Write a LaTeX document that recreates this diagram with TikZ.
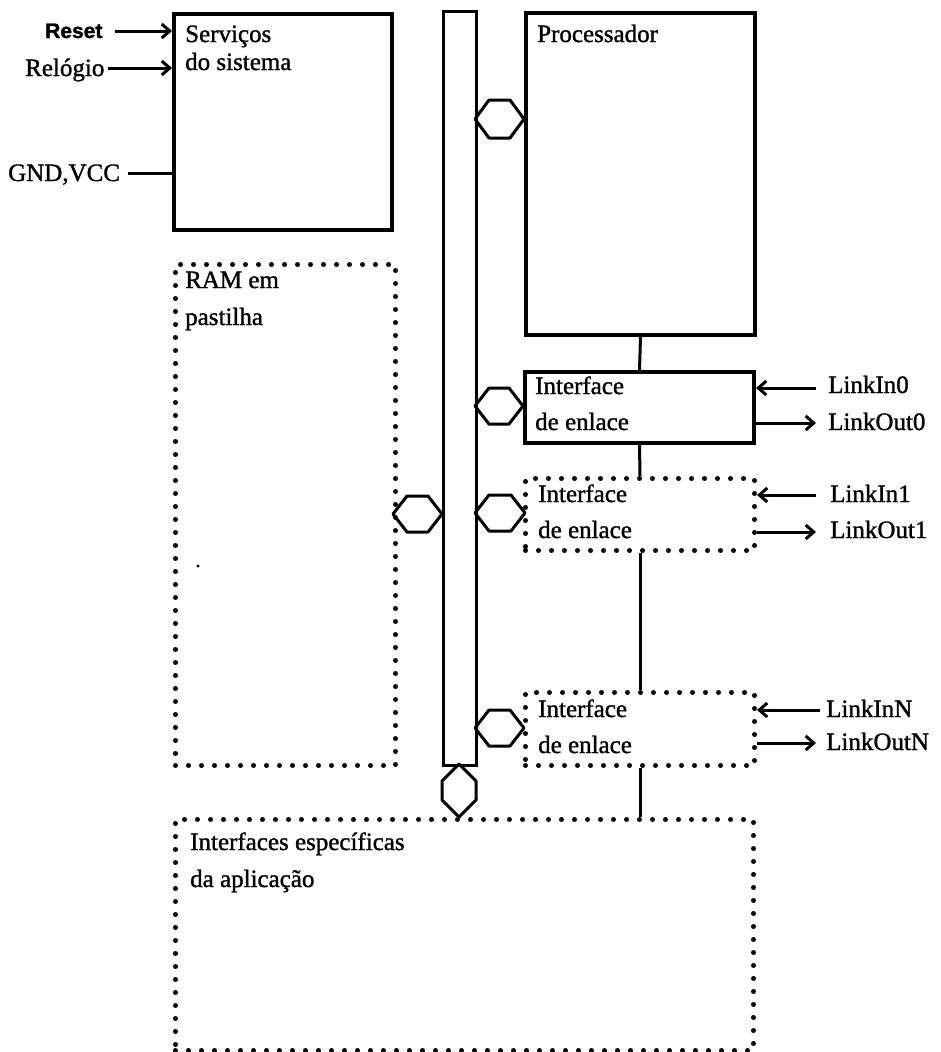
\documentclass[tikz,border=0pt]{standalone}
\usepackage{fontspec}
\setmainfont{Liberation Serif}[FakeBold=1.2]
\newfontfamily\resetfont{Liberation Sans}[FakeBold=1.5]
\usetikzlibrary{arrows.meta,calc}
\newcommand{\hexhor}[4]{%
  \draw[hexline] (#1,#3) -- (#1+14,#3-#4) -- (#2-14,#3-#4) -- (#2,#3) -- (#2-14,#3+#4) -- (#1+14,#3+#4) -- cycle;}
\begin{document}
\begin{tikzpicture}[x=1pt,y=-1pt,
  font=\fontsize{25}{30}\selectfont,
  solidbox/.style={draw, rectangle, line width=4pt, inner sep=0pt, anchor=north west},
  dotbox/.style={draw, rectangle, line width=5pt, dash pattern=on 0pt off 13pt, line cap=round, inner sep=0pt, anchor=north west},
  busbox/.style={draw, rectangle, line width=3pt, inner sep=0pt, anchor=north west},
  lbl/.style={anchor=base west, inner sep=0pt},
  wire/.style={line width=3pt},
  arr/.style={wire, -{Straight Barb[length=8pt,width=14pt]}},
  hexline/.style={line width=3pt, line join=round}]
\useasboundingbox (0,0) rectangle (941,1052);

% boxes
\node[solidbox, minimum width=218pt, minimum height=216pt] (serv) at (172,12) {};
\node[solidbox, minimum width=229pt, minimum height=322pt] (proc) at (524,11) {};
\node[solidbox, minimum width=229pt, minimum height=71pt] (if0) at (523,370) {};
\node[dotbox, minimum width=229pt, minimum height=72pt] (if1) at (523,476) {};
\node[dotbox, minimum width=229pt, minimum height=73pt] (ifN) at (523,690) {};
\node[dotbox, minimum width=220pt, minimum height=501pt] (ram) at (173,262) {};
\node[dotbox, minimum width=578pt, minimum height=231pt] (app) at (173,817) {};
\node[busbox, minimum width=33pt, minimum height=754pt] (bus) at (442,10) {};

% box texts
\node[lbl] (servt1) at (185,42) {Serviços};
\node[lbl] (servt2) at (185,70) {do sistema};
\node[lbl] (proct) at (537,42) {Processador};
\node[lbl] (if0t1) at (535,394) {Interface};
\node[lbl] (if0t2) at (535,430) {de enlace};
\node[lbl] (if1t1) at (538,502) {Interface};
\node[lbl] (if1t2) at (538,538) {de enlace};
\node[lbl] (ifNt1) at (538,717) {Interface};
\node[lbl] (ifNt2) at (538,753) {de enlace};
\node[lbl] (ramt1) at (185,288) {RAM em};
\node[lbl] (ramt2) at (185,325) {pastilha};
\node[lbl] (appt1) at (190,850) {Interfaces específicas};
\node[lbl] (appt2) at (190,887) {da aplicação};

% left inputs
\node[lbl] (reset) at (45,38) {\resetfont\bfseries\fontsize{21}{24}\selectfont Reset};
\node[lbl] (relogio) at (25,76) {Relógio};
\node[lbl] (gnd) at (8,181) {GND,VCC};
\coordinate (rs) at (115,31);
\coordinate (rl) at (108,68);
\coordinate (gv) at (128,173);
\draw[arr] (rs) -- (rs -| serv.west);
\draw[arr] (rl) -- (rl -| serv.west);
\draw[wire] (gv) -- (gv -| serv.west);

% vertical links
\draw[wire] (proc.south) -- (if0.north);
\draw[wire] (if0.south) -- (if1.north);
\draw[wire] (if1.south) -- (ifN.north);
\draw[wire] (ifN.south) -- (ifN.south |- app.north);

% link signals
\node[lbl] (li0) at (828,393) {LinkIn0};
\node[lbl] (lo0) at (828,430) {LinkOut0};
\node[lbl] (li1) at (830,502) {LinkIn1};
\node[lbl] (lo1) at (830,538) {LinkOut1};
\node[lbl] (liN) at (826,717) {LinkInN};
\node[lbl] (loN) at (826,750) {LinkOutN};
\coordinate (ci0) at (816,388);
\coordinate (co0) at (816,423);
\coordinate (ci1) at (816,495);
\coordinate (co1) at (816,532);
\coordinate (ciN) at (820,710);
\coordinate (coN) at (816,743);
\draw[arr] (ci0) -- (ci0 -| if0.east);
\draw[arr] (co0 -| if0.east) -- (co0);
\draw[arr] (ci1) -- (ci1 -| if1.east);
\draw[arr] (co1 -| if1.east) -- (co1);
\draw[arr] (ciN) -- (ciN -| ifN.east);
\draw[arr] (coN -| ifN.east) -- (coN);

% bus connectors (hexagons)
\hexhor{475}{524}{119}{19}
\hexhor{475}{523}{406}{18}
\hexhor{475}{525}{513}{18}
\hexhor{475}{524}{728}{18}
\hexhor{393}{442}{514}{18}
\draw[hexline] (459,764) -- (476,781) -- (476,800) -- (459,817) -- (442,800) -- (442,781) -- cycle;

% speck
\fill (198,566) circle (1.6);
\end{tikzpicture}
\end{document}
